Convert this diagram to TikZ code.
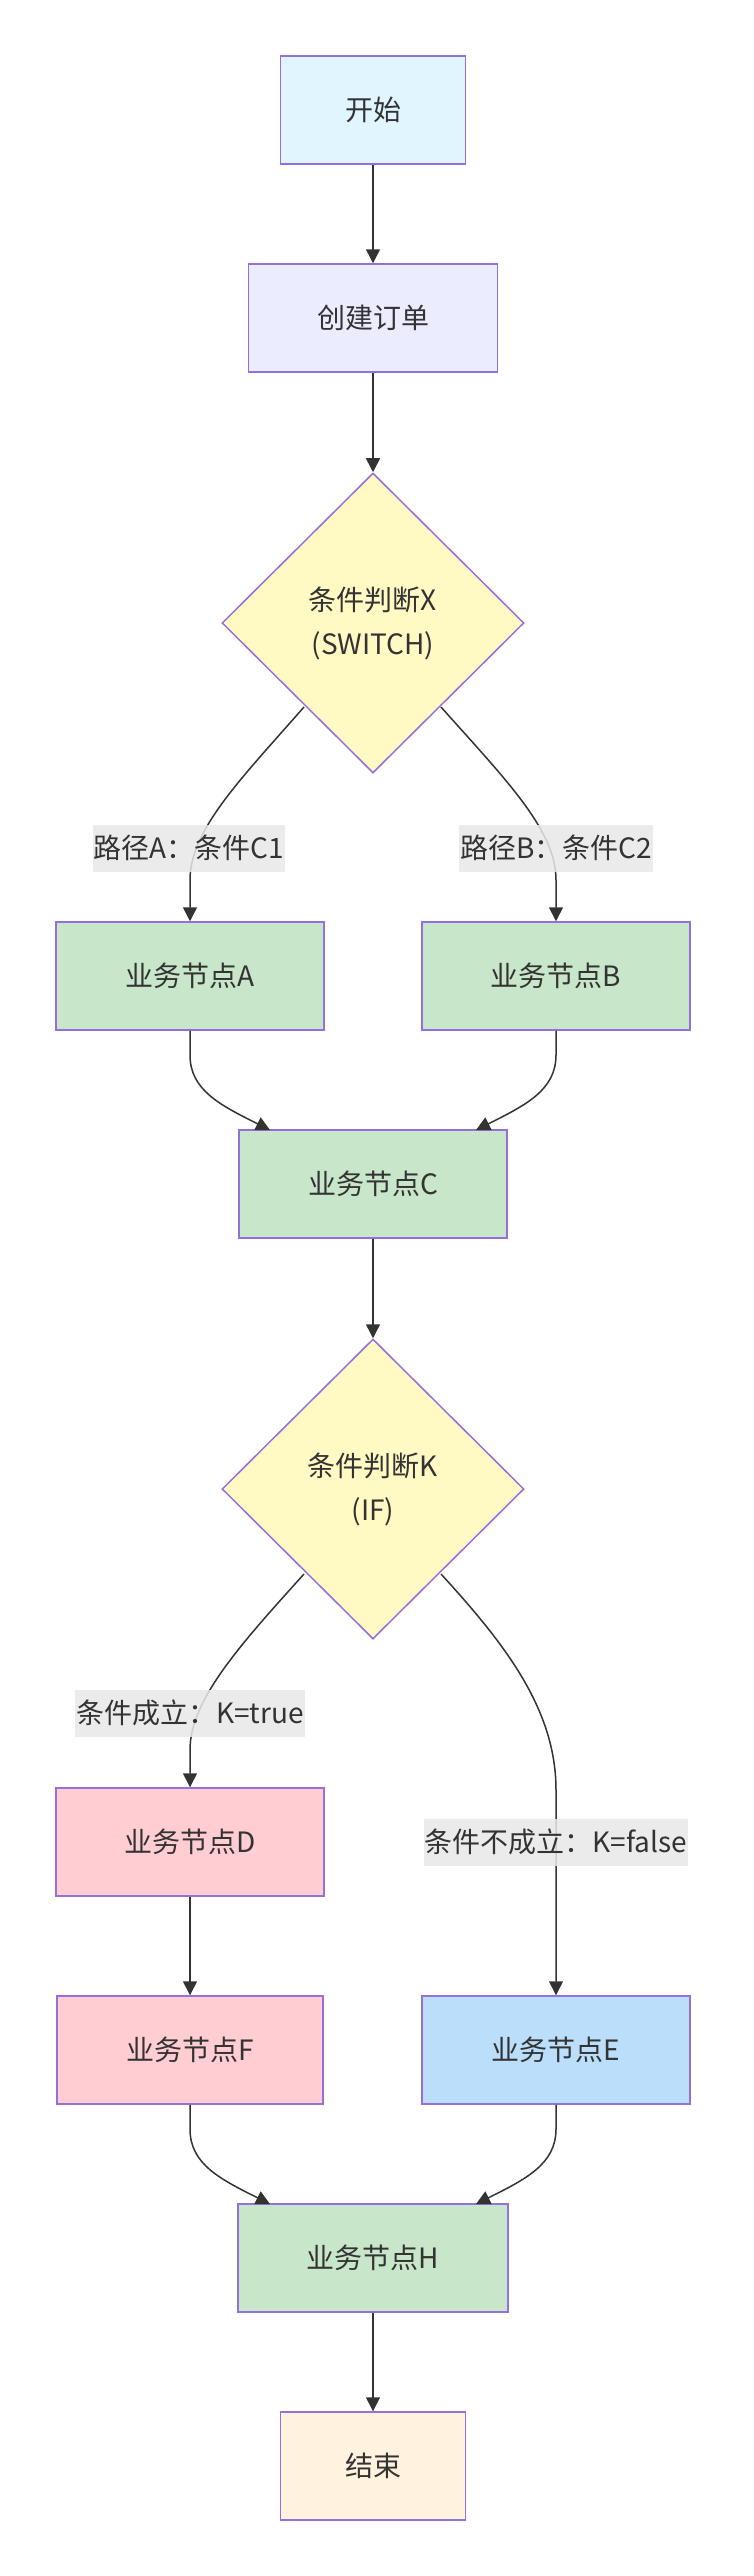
\documentclass[tikz,border=0pt]{standalone}
\usepackage{fontspec}
\setmainfont{Noto Sans CJK SC}
\usetikzlibrary{shapes.geometric,arrows.meta}
\definecolor{bd}{HTML}{9370DB}
\definecolor{ln}{HTML}{333333}
\definecolor{cstart}{HTML}{E1F5FE}
\definecolor{ccreate}{HTML}{ECECFF}
\definecolor{cdia}{HTML}{FFF9C4}
\definecolor{cgreen}{HTML}{C8E6C9}
\definecolor{cpink}{HTML}{FFCDD2}
\definecolor{cblue}{HTML}{BBDEFB}
\definecolor{cend}{HTML}{FFF3E0}
\definecolor{lbg}{HTML}{E8E8E8}
\begin{document}
\begin{tikzpicture}[x=1pt,y=-1pt,
  every node/.style={font=\fontsize{28}{44}\selectfont, text=ln},
  box/.style={draw=bd, line width=1.5pt, minimum height=108pt, inner sep=0pt},
  dia/.style={draw=bd, line width=1.5pt, shape=diamond, minimum width=302pt, minimum height=300pt, inner sep=0pt, align=center, fill=cdia},
  lab/.style={fill=lbg, fill opacity=0.85, text opacity=1, inner sep=1pt, minimum height=47pt},
  arr/.style={draw=ln, line width=1.5pt, -{Triangle[length=14pt,width=14pt]}}]
\useasboundingbox (0,0) rectangle (753,2576);
\node[box, fill=cstart, minimum width=185pt] (start) at (373,110) {开始};
\node[box, fill=ccreate, minimum width=249pt] (create) at (373,318) {创建订单};
\node[dia] (X) at (373,623) {条件判断X\\(SWITCH)};
\node[box, fill=cgreen, minimum width=268pt] (A) at (190,976) {业务节点A};
\node[box, fill=cgreen, minimum width=268pt] (B) at (556,976) {业务节点B};
\node[box, fill=cgreen, minimum width=268pt] (C) at (373,1184) {业务节点C};
\node[dia] (K) at (373,1489) {条件判断K\\(IF)};
\node[box, fill=cpink, minimum width=268pt] (D) at (190,1842) {业务节点D};
\node[box, fill=cpink, minimum width=266pt] (F) at (190,2050) {业务节点F};
\node[box, fill=cblue, minimum width=268pt] (E) at (556,2050) {业务节点E};
\node[box, fill=cgreen, minimum width=270pt] (H) at (373,2258) {业务节点H};
\node[box, fill=cend, minimum width=185pt] (end) at (373,2466) {结束};
\coordinate (xl) at (304,707);
\coordinate (xr) at (441,707);
\coordinate (kl) at (304,1574);
\coordinate (kr) at (441,1574);
\coordinate (cl) at (270,1130);
\coordinate (cr) at (476,1130);
\coordinate (hl) at (270,2204);
\coordinate (hr) at (476,2204);
\draw[arr] (start) -- (create);
\draw[arr] (create) -- (X);
\draw[arr] (xl) .. controls (240,780) and (190,830) .. (190,880) -- (A.north);
\draw[arr] (xr) .. controls (506,780) and (556,830) .. (556,880) -- (B.north);
\draw[arr] (A.south) -- (190,1055) .. controls (190,1090) and (220,1105) .. (cl);
\draw[arr] (B.south) -- (556,1055) .. controls (556,1090) and (526,1105) .. (cr);
\draw[arr] (C) -- (K);
\draw[arr] (kl) .. controls (240,1645) and (190,1700) .. (190,1750) -- (D.north);
\draw[arr] (kr) .. controls (506,1645) and (556,1710) .. (556,1790) -- (E.north);
\draw[arr] (D) -- (F);
\draw[arr] (F.south) -- (190,2129) .. controls (190,2164) and (220,2179) .. (hl);
\draw[arr] (E.south) -- (556,2129) .. controls (556,2164) and (526,2179) .. (hr);
\draw[arr] (H) -- (end);
\node[lab] (la) at (189,848) {路径A：条件C1};
\node[lab] (lb) at (556,848) {路径B：条件C2};
\node[lab] (lt) at (190,1713) {条件成立：K=true};
\node[lab] (lf) at (556,1842) {条件不成立：K=false};
\end{tikzpicture}
\end{document}
